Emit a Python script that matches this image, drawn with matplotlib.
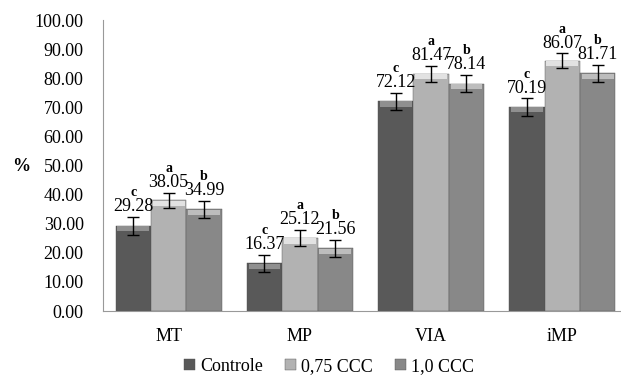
import matplotlib.pyplot as plt
import numpy as np

plt.rcParams['font.family'] = ['Liberation Serif', 'DejaVu Serif']

categories = ['MT', 'MP', 'VIA', 'iMP']
series = ['Controle', '0,75 CCC', '1,0 CCC']
controle = [29.28, 16.37, 72.12, 70.19]
ccc_075 = [38.05, 25.12, 81.47, 86.07]
ccc_10 = [34.99, 21.56, 78.14, 81.71]
err_controle = [3.1, 3.0, 2.9, 3.0]
err_075 = [2.6, 2.8, 2.9, 2.6]
err_10 = [3.0, 2.9, 3.0, 3.0]
letters_controle = ['c', 'c', 'c', 'c']
letters_075 = ['a', 'a', 'a', 'a']
letters_10 = ['b', 'b', 'b', 'b']

colors = ['#595959', '#b2b2b2', '#888888']
caps = ['#8f8f8f', '#e2e2e2', '#bdbdbd']

fig = plt.figure(figsize=(6.21, 3.78), dpi=100)
ax = fig.add_axes([0.166, 0.177, 0.845, 0.77])

x = np.arange(len(categories))
w = 0.27
data = [controle, ccc_075, ccc_10]
errs = [err_controle, err_075, err_10]
letters = [letters_controle, letters_075, letters_10]

for i in range(3):
    xs = x + (i - 1) * w
    vals = np.array(data[i])
    ax.bar(xs, vals, w, color=colors[i], edgecolor='#505050', linewidth=0.3,
           label=series[i], zorder=2)
    # bevelled top
    ax.bar(xs, np.full(len(vals), 1.8), w * 0.9, bottom=vals - 1.9,
           color=caps[i], linewidth=0, zorder=3)
    ax.errorbar(xs, vals, yerr=errs[i], fmt='none', ecolor='black',
                elinewidth=1.0, capsize=4, capthick=1.0, zorder=4)
    for xi, v, e, l in zip(xs, vals, errs[i], letters[i]):
        ax.text(xi, v + e + 0.5, f'{v:.2f}', ha='center', va='bottom',
                fontsize=13, zorder=5)
        ax.text(xi, v + e + 6.0, l, ha='center', va='bottom',
                fontsize=10, fontweight='bold', zorder=5)

ax.set_xlim(-0.5, 3.5)
ax.set_ylim(0, 100)
ax.set_yticks(np.arange(0, 101, 10))
ax.set_yticklabels([f'{t:.2f}' for t in np.arange(0, 101, 10)], fontsize=13)
ax.set_xticks(x)
ax.set_xticklabels(categories, fontsize=13)
ax.tick_params(axis='y', length=0, pad=14)
ax.tick_params(axis='x', length=0, pad=12)
for s in ['top', 'right']:
    ax.spines[s].set_visible(False)
ax.spines['left'].set_color('#999999')
ax.spines['bottom'].set_color('#999999')

fig.text(0.02, 0.56, '%', fontsize=13, fontweight='bold', va='center')

fig.legend(loc='lower center', bbox_to_anchor=(0.53, -0.035), ncol=3,
           frameon=False, fontsize=13, handlelength=0.6, handleheight=0.6,
           handletextpad=0.3, columnspacing=1.2)

fig.savefig('out.png', dpi=100)
